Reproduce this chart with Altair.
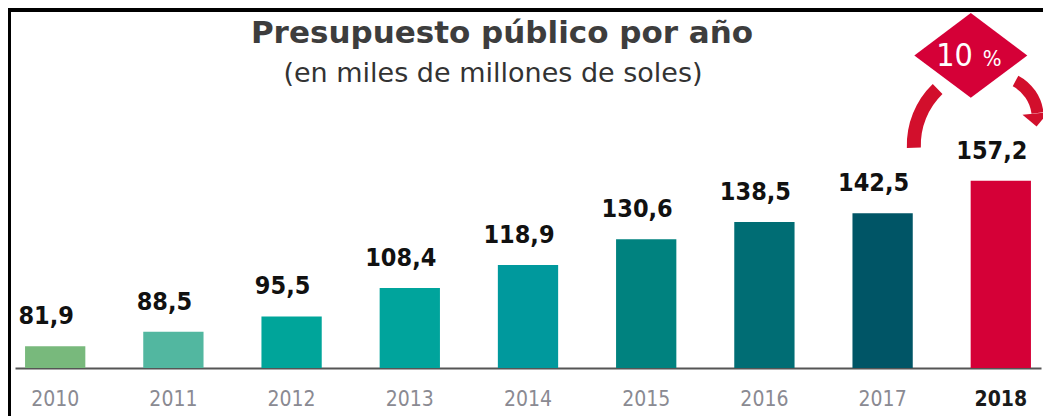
import altair as alt
import pandas as pd

# ---- data -----------------------------------------------------------------
years = ["2010", "2011", "2012", "2013", "2014", "2015", "2016", "2017", "2018"]
values = [81.9, 88.5, 95.5, 108.4, 118.9, 130.6, 138.5, 142.5, 157.2]
value_labels = ["81,9", "88,5", "95,5", "108,4", "118,9", "130,6", "138,5", "142,5", "157,2"]
bar_colors = ["#78b97c", "#52b7a0", "#00a59a", "#00a49c", "#00999d",
              "#00827f", "#006d74", "#005566", "#d50037"]

title_text = "Presupuesto público por año"
subtitle_text = "(en miles de millones de soles)"
growth_number = "10"
growth_unit = "%"
highlight_year = "2018"

df = pd.DataFrame({"year": years, "value": values, "label": value_labels, "color": bar_colors})

# ---- styling ----------------------------------------------------------------
NARROW = "DejaVu Sans Condensed, sans-serif"
RED = "#d50037"
ARROW_RED = "#d20f2c"
Y_MIN, Y_MAX = 72, 194

x_enc = alt.X(
    "year:N", sort=years,
    scale=alt.Scale(paddingInner=0.49, paddingOuter=0.085),
    axis=alt.Axis(
        title=None, ticks=False, domainColor="#555555", domainWidth=2,
        labelFont=NARROW, labelFontSize=21, labelPadding=20, labelAngle=0,
        labelColor=alt.ExprRef(expr=f"datum.value == '{highlight_year}' ? '#1a1a1a' : '#8a8a92'"),
        labelFontWeight=alt.ExprRef(expr=f"datum.value == '{highlight_year}' ? 'bold' : 'normal'"),
        grid=False,
    ),
)
y_enc = alt.Y("value:Q", scale=alt.Scale(domain=[Y_MIN, Y_MAX], zero=False, nice=False), axis=None)

bars = alt.Chart(df).mark_bar().encode(
    x=x_enc, y=y_enc, y2=alt.datum(Y_MIN),
    color=alt.Color("color:N", scale=None, legend=None),
)

labels = alt.Chart(df).mark_text(
    font=NARROW, fontSize=25, fontWeight="bold", color="#111111",
    baseline="alphabetic", dy=-22, dx=-9,
).encode(x=alt.X("year:N", sort=years), y="value:Q", text="label:N")

one = alt.Data(values=[{"k": 0}])

title_mark = alt.Chart(one).mark_text(
    font="DejaVu Sans", fontSize=31, fontWeight="bold", color="#3d3d3d",
    align="center", baseline="alphabetic",
).encode(x=alt.value(487), y=alt.value(-57), text=alt.value(title_text))

subtitle_mark = alt.Chart(one).mark_text(
    font="DejaVu Sans", fontSize=27, color="#333333",
    align="center", baseline="alphabetic",
).encode(x=alt.value(478), y=alt.value(-18), text=alt.value(subtitle_text))

diamond = alt.Chart(one).mark_point(
    shape="M -1 0 L 0 -0.75 L 1 0 L 0 0.75 Z", size=12769, filled=True,
    color=RED, opacity=1, xOffset=-30,
).encode(x=alt.datum(highlight_year), y=alt.datum(214.3))

num_text = alt.Chart(one).mark_text(
    font=NARROW, fontSize=32, color="white", align="right", baseline="alphabetic",
    xOffset=-28,
).encode(x=alt.datum(highlight_year), y=alt.datum(209.5), text=alt.value(growth_number))

unit_text = alt.Chart(one).mark_text(
    font=NARROW, fontSize=22, color="white", align="left", baseline="alphabetic",
    xOffset=-18,
).encode(x=alt.datum(highlight_year), y=alt.datum(209.5), text=alt.value(growth_unit))

arc_left = alt.Chart(one).mark_arc(
    radius=85, radius2=71, theta=4.677, theta2=5.515, color=ARROW_RED, xOffset=-9,
).encode(x=alt.datum(highlight_year), y=alt.datum(173.5))

arc_right = alt.Chart(one).mark_arc(
    radius=48, radius2=36, theta=0.489, theta2=1.45, color=ARROW_RED, xOffset=-5,
).encode(x=alt.datum(highlight_year), y=alt.datum(185.8))

arrow_head = alt.Chart(one).mark_point(
    shape="M -1 -0.5 L 1 -0.5 L 0 0.5 Z", size=676, filled=True,
    color=ARROW_RED, opacity=1, angle=355, xOffset=35.2,
).encode(x=alt.datum(highlight_year), y=alt.datum(184.9))

frame_top = alt.Chart(one).mark_rule(color="black", strokeWidth=4).encode(
    x=alt.value(-7), x2=alt.value(1030), y=alt.value(-90))
frame_left = alt.Chart(one).mark_rule(color="black", strokeWidth=4).encode(
    x=alt.value(-6), y=alt.value(-92), y2=alt.value(320))

chart = alt.layer(
    bars, labels, arc_left, arc_right, arrow_head, diamond, num_text, unit_text,
    title_mark, subtitle_mark, frame_top, frame_left,
).properties(
    width=1026, height=268,
    padding={"left": 7, "top": 92, "right": 2, "bottom": 48},
    autosize=alt.AutoSizeParams(type="none"),
).configure(background="white").configure_view(stroke=None)

chart.save("out.html", embed_options={"renderer": "svg", "actions": False})
